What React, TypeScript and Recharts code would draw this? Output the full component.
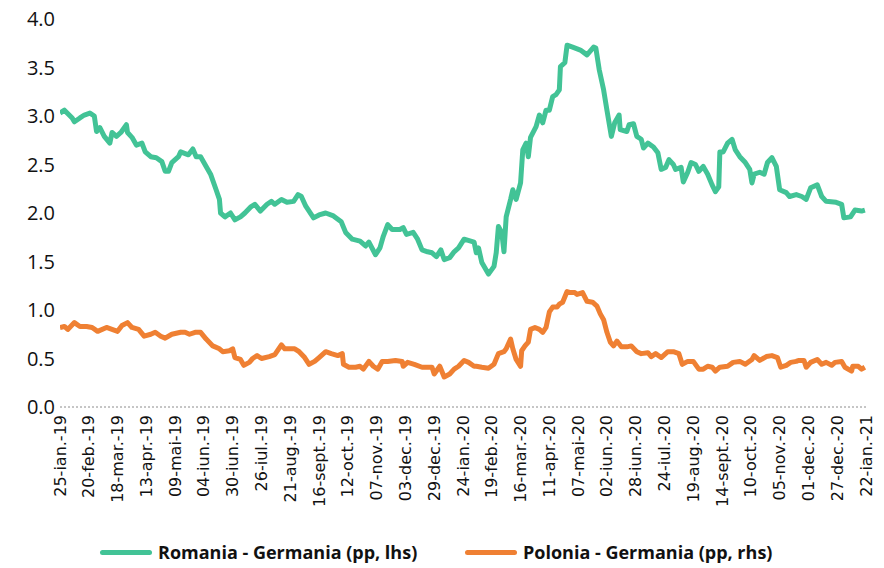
import { LineChart, Line, XAxis, YAxis, Legend } from "recharts";

// day offsets from 25-ian.-19, ticks every 26 days
const tickLabels = [
  "25-ian.-19", "20-feb.-19", "18-mar.-19", "13-apr.-19", "09-mai-19", "04-iun.-19",
  "30-iun.-19", "26-iul.-19", "21-aug.-19", "16-sept.-19", "12-oct.-19", "07-nov.-19",
  "03-dec.-19", "29-dec.-19", "24-ian.-20", "19-feb.-20", "16-mar.-20", "11-apr.-20",
  "07-mai-20", "02-iun.-20", "28-iun.-20", "24-iul.-20", "19-aug.-20", "14-sept.-20",
  "10-oct.-20", "05-nov.-20", "01-dec.-20", "27-dec.-20", "22-ian.-21",
];
const tickDays = [
  0, 26, 52, 78, 104, 130, 156, 182, 208, 234, 260, 286, 312, 338, 364,
  390, 416, 442, 468, 494, 520, 546, 572, 598, 624, 650, 676, 702, 728,
];

const roDays = [
  0, 4, 11, 13, 18, 22, 27, 31, 33, 36,
  40, 45, 47, 51, 55, 60, 61, 65, 69, 74,
  77, 82, 87, 92, 95, 98, 101, 107, 109, 116,
  120, 123, 127, 132, 136, 141, 144, 145, 149, 154,
  158, 163, 167, 172, 176, 181, 187, 191, 194, 200,
  205, 211, 215, 218, 222, 229, 234, 240, 247, 254,
  258, 264, 271, 276, 279, 285, 289, 292, 296, 300,
  307, 310, 313, 319, 323, 327, 332, 336, 340, 344,
  347, 352, 356, 360, 365, 371, 374, 376, 378, 381,
  387, 392, 394, 396, 399, 401, 403, 407, 409, 412,
  416, 418, 421, 423, 425, 430, 433, 436, 439, 442,
  445, 448, 451, 452, 456, 458, 463, 470, 476, 482,
  484, 487, 491, 494, 498, 501, 505, 506, 512, 514,
  518, 521, 525, 527, 531, 536, 540, 543, 547, 550,
  554, 556, 561, 563, 567, 570, 574, 577, 581, 585,
  589, 592, 595, 596, 599, 603, 607, 610, 614, 619,
  623, 625, 627, 632, 636, 639, 643, 647, 650, 656,
  659, 665, 670, 674, 678, 684, 688, 692, 701, 706,
  708, 714, 718, 724, 727,
];
const roValues = [
  3.03, 3.06, 2.98, 2.94, 2.98, 3.01, 3.03, 3.0, 2.84, 2.88,
  2.79, 2.72, 2.83, 2.79, 2.83, 2.91, 2.83, 2.78, 2.7, 2.72,
  2.63, 2.58, 2.57, 2.53, 2.43, 2.43, 2.52, 2.58, 2.63, 2.6,
  2.66, 2.58, 2.58, 2.48, 2.4, 2.24, 2.14, 2.0, 1.96, 2.0,
  1.93, 1.96, 2.0, 2.06, 2.09, 2.02, 2.09, 2.12, 2.09, 2.14,
  2.11, 2.12, 2.19, 2.17, 2.07, 1.95, 1.98, 2.0, 1.97, 1.91,
  1.8, 1.73, 1.71, 1.66, 1.7, 1.57, 1.64, 1.76, 1.88, 1.83,
  1.83, 1.85, 1.78, 1.8, 1.73, 1.62, 1.6, 1.59, 1.55, 1.62,
  1.52, 1.54, 1.6, 1.64, 1.73, 1.71, 1.7, 1.59, 1.64, 1.49,
  1.37, 1.45, 1.59, 1.86, 1.8, 1.6, 1.96, 2.14, 2.24, 2.14,
  2.31, 2.65, 2.72, 2.58, 2.78, 2.89, 3.01, 2.93, 3.06, 3.06,
  3.2, 3.22, 3.27, 3.51, 3.55, 3.73, 3.71, 3.68, 3.63, 3.71,
  3.7, 3.48, 3.27, 3.06, 2.79, 2.93, 3.01, 2.86, 2.84, 2.91,
  2.92, 2.79, 2.76, 2.67, 2.72, 2.68, 2.62, 2.45, 2.47, 2.55,
  2.5, 2.45, 2.47, 2.32, 2.42, 2.52, 2.5, 2.43, 2.48, 2.4,
  2.29, 2.22, 2.27, 2.63, 2.63, 2.72, 2.76, 2.65, 2.58, 2.52,
  2.45, 2.31, 2.4, 2.42, 2.4, 2.52, 2.57, 2.48, 2.24, 2.21,
  2.17, 2.19, 2.17, 2.14, 2.26, 2.29, 2.17, 2.12, 2.11, 2.09,
  1.95, 1.96, 2.03, 2.02, 2.03,
];

const plDays = [
  0, 4, 7, 13, 18, 24, 29, 34, 42, 47,
  52, 56, 61, 65, 71, 76, 82, 86, 91, 95,
  101, 109, 113, 117, 122, 127, 132, 138, 144, 147,
  153, 156, 158, 163, 166, 171, 174, 178, 182, 189,
  194, 200, 203, 212, 216, 221, 225, 230, 234, 240,
  245, 251, 255, 256, 261, 267, 271, 274, 279, 283,
  287, 291, 296, 303, 309, 310, 314, 320, 327, 332,
  336, 338, 343, 347, 352, 356, 360, 365, 369, 374,
  376, 381, 387, 392, 396, 401, 403, 407, 409, 412,
  416, 417, 420, 423, 425, 429, 433, 436, 439, 442,
  445, 449, 451, 454, 458, 461, 465, 467, 472, 476,
  481, 485, 488, 491, 494, 497, 500, 503, 507, 512,
  516, 521, 525, 531, 534, 538, 543, 549, 554, 559,
  562, 567, 572, 577, 581, 585, 589, 592, 596, 603,
  608, 614, 619, 625, 627, 632, 638, 643, 648, 651,
  656, 660, 665, 667, 672, 674, 678, 684, 688, 692,
  697, 700, 706, 709, 715, 716, 721, 724, 727,
];
const plValues = [
  0.82, 0.83, 0.8, 0.87, 0.83, 0.83, 0.82, 0.78, 0.82, 0.8,
  0.78, 0.84, 0.87, 0.82, 0.8, 0.73, 0.75, 0.77, 0.73, 0.71,
  0.75, 0.77, 0.77, 0.75, 0.77, 0.77, 0.7, 0.63, 0.6, 0.57,
  0.58, 0.6, 0.51, 0.49, 0.43, 0.46, 0.5, 0.53, 0.5, 0.52,
  0.54, 0.64, 0.6, 0.6, 0.57, 0.51, 0.44, 0.47, 0.51, 0.57,
  0.55, 0.53, 0.55, 0.44, 0.41, 0.41, 0.42, 0.39, 0.47, 0.42,
  0.39, 0.47, 0.47, 0.48, 0.47, 0.42, 0.46, 0.44, 0.41, 0.41,
  0.41, 0.34, 0.42, 0.31, 0.34, 0.39, 0.42, 0.48, 0.46, 0.42,
  0.42, 0.41, 0.4, 0.44, 0.55, 0.57, 0.6, 0.7, 0.6, 0.49,
  0.42, 0.58, 0.63, 0.67, 0.8, 0.82, 0.8, 0.77, 0.82, 0.98,
  1.03, 1.03, 1.06, 1.08, 1.19, 1.18, 1.18, 1.16, 1.18, 1.09,
  1.08, 1.04, 0.96, 0.9, 0.77, 0.67, 0.63, 0.68, 0.62, 0.62,
  0.63, 0.57, 0.55, 0.56, 0.52, 0.55, 0.51, 0.57, 0.57, 0.55,
  0.44, 0.47, 0.47, 0.39, 0.39, 0.42, 0.41, 0.37, 0.41, 0.42,
  0.46, 0.47, 0.44, 0.49, 0.53, 0.48, 0.52, 0.53, 0.51, 0.41,
  0.43, 0.46, 0.47, 0.48, 0.48, 0.41, 0.46, 0.49, 0.44, 0.46,
  0.43, 0.46, 0.47, 0.41, 0.37, 0.42, 0.42, 0.39, 0.41,
];

const yTicks = [0, 0.5, 1, 1.5, 2, 2.5, 3, 3.5, 4];

const GREEN = "#42C396";
const ORANGE = "#EF8033";

const roData = roDays.map((day, i) => ({ day, ro: roValues[i] }));
const plData = plDays.map((day, i) => ({ day, pl: plValues[i] }));

const labelFor = (day: number) => tickLabels[tickDays.indexOf(day)] ?? "";

const DateTick = ({ x, y, payload }: any) => (
  <text
    x={x}
    y={y}
    transform={`rotate(-90, ${x}, ${y})`}
    textAnchor="end"
    dominantBaseline="central"
    fontFamily="DejaVu Sans"
    fontSize={16}
    fill="#111"
  >
    {labelFor(payload.value)}
  </text>
);

const legendItems = [
  { name: "Romania - Germania (pp, lhs)", color: GREEN, left: 100 },
  { name: "Polonia - Germania (pp, rhs)", color: ORANGE, left: 465 },
];

const LegendContent = () => (
  <div style={{ position: "relative", height: 24 }}>
    {legendItems.map((it) => (
      <div
        key={it.name}
        style={{
          position: "absolute",
          left: it.left,
          top: 0,
          display: "flex",
          alignItems: "center",
          fontFamily: "'Open Sans', sans-serif",
          fontWeight: 700,
          fontSize: 18,
          color: "#111",
          whiteSpace: "nowrap",
        }}
      >
        <span
          style={{
            display: "inline-block",
            width: 52,
            height: 5,
            borderRadius: 3,
            background: it.color,
            marginRight: 6,
          }}
        />
        {it.name}
      </div>
    ))}
  </div>
);

export default function App() {
  return (
    <div style={{ position: "absolute", left: 0, top: 0 }}>
      <LineChart
        width={884}
        height={568}
        margin={{ top: 19, right: 18, left: 0, bottom: 0 }}
      >
        <XAxis
          type="number"
          dataKey="day"
          domain={[0, 728]}
          ticks={tickDays}
          interval={0}
          tick={<DateTick />}
          tickLine={false}
          axisLine={{ stroke: "#8c8c8c", strokeDasharray: "2 2", strokeWidth: 1 }}
          height={137}
          allowDataOverflow
        />
        <YAxis
          type="number"
          domain={[0, 4]}
          ticks={yTicks}
          tickFormatter={(v: number) => v.toFixed(1)}
          axisLine={false}
          tickLine={false}
          tickSize={0}
          tickMargin={5}
          width={60}
          tick={{ fontFamily: "'Open Sans', sans-serif", fontSize: 20, fill: "#111" }}
        />
        <Line
          data={roData}
          dataKey="ro"
          name="Romania - Germania (pp, lhs)"
          stroke={GREEN}
          strokeWidth={5}
          strokeLinejoin="round"
          dot={false}
          type="linear"
          isAnimationActive={false}
        />
        <Line
          data={plData}
          dataKey="pl"
          name="Polonia - Germania (pp, rhs)"
          stroke={ORANGE}
          strokeWidth={5}
          strokeLinejoin="round"
          dot={false}
          type="linear"
          isAnimationActive={false}
        />
        <Legend
          content={<LegendContent />}
          verticalAlign="bottom"
          wrapperStyle={{ left: 0, width: 884, bottom: 4 }}
        />
      </LineChart>
    </div>
  );
}
